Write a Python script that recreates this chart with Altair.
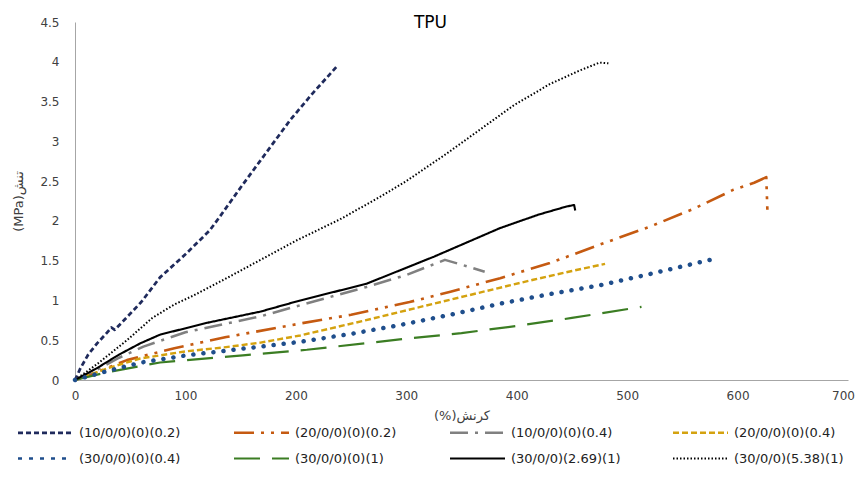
import altair as alt
import pandas as pd

names = ["(10/0/0)(0)(0.2)", "(20/0/0)(0)(0.2)", "(10/0/0)(0)(0.4)", "(20/0/0)(0)(0.4)",
         "(30/0/0)(0)(0.4)", "(30/0/0)(0)(1)", "(30/0/0)(2.69)(1)", "(30/0/0)(5.38)(1)"]

s1_x = [0, 5, 12, 20, 28, 33, 36, 45, 60, 77, 100, 122, 131, 150, 168, 195, 215, 237]
s1_y = [0, 0.15, 0.32, 0.46, 0.58, 0.66, 0.63, 0.76, 0.98, 1.29, 1.58, 1.88, 2.05, 2.42, 2.76, 3.27, 3.6, 3.94]

s2_x = [0, 20, 47, 90, 137, 204, 250, 303, 340, 385, 430, 475, 521, 560, 596, 615, 626, 627]
s2_y = [0, 0.10, 0.25, 0.40, 0.54, 0.71, 0.82, 0.98, 1.11, 1.28, 1.47, 1.70, 1.93, 2.15, 2.39, 2.48, 2.55, 2.14]

s3_x = [0, 20, 40, 62, 100, 168, 204, 264, 300, 335, 350, 371]
s3_y = [0, 0.13, 0.28, 0.42, 0.60, 0.80, 0.94, 1.17, 1.32, 1.51, 1.45, 1.36]

s4_x = [0, 30, 59, 100, 135, 168, 204, 260, 325, 370, 415, 450, 480]
s4_y = [0, 0.15, 0.27, 0.36, 0.41, 0.47, 0.56, 0.74, 0.96, 1.11, 1.26, 1.37, 1.46]

s5_x = [0, 26, 60, 101, 168, 204, 250, 294, 340, 385, 430, 475, 520, 575]
s5_y = [0, 0.10, 0.22, 0.31, 0.42, 0.48, 0.58, 0.69, 0.82, 0.96, 1.08, 1.19, 1.33, 1.51]

s6_x = [0, 30, 77, 152, 210, 294, 350, 400, 450, 513]
s6_y = [0, 0.10, 0.22, 0.31, 0.38, 0.51, 0.59, 0.68, 0.78, 0.92]

s7_x = [0, 20, 40, 59, 77, 120, 168, 204, 264, 325, 385, 420, 445, 452, 453]
s7_y = [0, 0.15, 0.32, 0.46, 0.57, 0.72, 0.86, 1.00, 1.21, 1.55, 1.91, 2.08, 2.18, 2.20, 2.13]

s8_x = [0, 20, 47, 70, 90, 107, 140, 168, 200, 240, 276, 300, 337, 370, 397, 430, 457, 475, 483]
s8_y = [0, 0.20, 0.50, 0.78, 0.95, 1.06, 1.30, 1.51, 1.75, 2.02, 2.30, 2.50, 2.85, 3.18, 3.45, 3.72, 3.89, 3.99, 3.98]

colors = ["#1f2a5c", "#c55a11", "#808080", "#d4a20f", "#1f4e8c", "#3b7d23", "#000000", "#000000"]
dashes = [[5, 3], [20, 7, 3, 7, 3, 7], [18, 7, 3, 7], [6, 3], [4, 7], [26, 12], [1, 0], [1.5, 2]]
widths = [2.75, 2, 2, 2, 4, 3, 2, 2]

x_ticks = [0, 100, 200, 300, 400, 500, 600, 700]
y_ticks = [0, 0.5, 1, 1.5, 2, 2.5, 3, 3.5, 4, 4.5]

series = [(s1_x, s1_y), (s2_x, s2_y), (s3_x, s3_y), (s4_x, s4_y),
          (s5_x, s5_y), (s6_x, s6_y), (s7_x, s7_y), (s8_x, s8_y)]

rows = []
for name, (xs, ys) in zip(names, series):
    for i, (a, b) in enumerate(zip(xs, ys)):
        rows.append({"series": name, "strain": a, "stress": b, "idx": i})
df = pd.DataFrame(rows)
df_main = df[df["series"] != names[4]]
df_blue = df[df["series"] == names[4]]

FONT = "DejaVu Sans"

leg = alt.Legend(title=None, orient="none", legendX=-36, legendY=404, columns=4,
                 symbolType="M-5.5,0H5.5", symbolSize=100, labelFont=FONT, labelFontSize=13,
                 labelColor="#222222", columnPadding=47, rowPadding=12, labelOffset=27,
                 direction="horizontal", labelLimit=300)

x_axis = alt.Axis(values=x_ticks, title="(%)کرنش", grid=False, ticks=False, labelOverlap=False,
                  labelFlush=False, domainColor="#a6a6a6", labelPadding=10, labelFont=FONT,
                  labelFontSize=12, labelColor="#404040", titleFont=FONT, titleFontSize=13,
                  titleFontWeight="normal", titleColor="#404040", titlePadding=8,
                  labelOffset={"condition": {"test": "datum.value == 700", "value": -5}, "value": 0})
y_axis = alt.Axis(values=y_ticks, format="~g", title="(MPa)تنش", labelOverlap=False, labelFlush=False,
                  grid=False, ticks=False, domainColor="#a6a6a6", labelPadding=16, labelFont=FONT,
                  labelFontSize=12, labelColor="#404040", titleFont=FONT, titleFontSize=13,
                  titleFontWeight="normal", titleColor="#404040", titlePadding=14)
x_scale = alt.Scale(domain=[0, 700], nice=False)
y_scale = alt.Scale(domain=[0, 4.5], nice=False)

main = alt.Chart(df_main).mark_line(strokeCap="butt", strokeJoin="round").encode(
    x=alt.X("strain:Q", scale=x_scale, axis=x_axis),
    y=alt.Y("stress:Q", scale=y_scale, axis=y_axis),
    color=alt.Color("series:N", scale=alt.Scale(domain=names, range=colors), legend=leg),
    strokeDash=alt.StrokeDash("series:N", scale=alt.Scale(domain=names, range=dashes), legend=leg),
    strokeWidth=alt.StrokeWidth("series:N", scale=alt.Scale(domain=names, range=widths), legend=leg),
    order="idx:Q",
)

blue = alt.Chart(df_blue).mark_line(strokeCap="round", strokeDash=[0.1, 10], strokeWidth=4.5,
                                    color=colors[4]).encode(
    x=alt.X("strain:Q", scale=x_scale, axis=x_axis),
    y=alt.Y("stress:Q", scale=y_scale, axis=y_axis),
    order="idx:Q")

chart = alt.layer(main, blue).properties(
    width=773, height=358,
    title=alt.TitleParams("TPU", font=FONT, fontSize=17, fontWeight="normal", color="#000000",
                          anchor="middle", frame="group", offset=-16, dx=-31),
    autosize=alt.AutoSizeParams(type="none"),
    padding={"left": 67, "top": 14, "right": 7, "bottom": 100},
).configure_view(stroke=None)

chart.save("out.html", embed_options={"renderer": "svg", "actions": False})
